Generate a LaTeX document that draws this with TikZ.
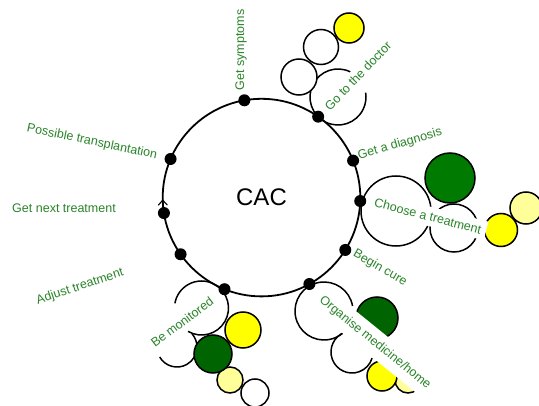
\documentclass[tikz,border=0pt]{standalone}
\usepackage{fontspec}
\setmainfont{Liberation Sans}
\usetikzlibrary{arrows.meta}
\definecolor{cycText}{HTML}{2A842A}
\definecolor{cycGreen}{HTML}{007A00}
\definecolor{cycDark}{HTML}{006400}
\definecolor{cycYellow}{HTML}{FFFF00}
\definecolor{cycPale}{HTML}{FFFF99}

\begin{document}
\begin{tikzpicture}[
  x=1pt, y=1pt,
  font=\fontsize{12.5}{14}\selectfont,
  ring/.style={circle, draw, line width=1.8pt, minimum size=197.6pt,
               inner sep=0pt, outer sep=0pt, font=\fontsize{24}{28}\selectfont},
  stopdot/.style={circle, fill=black, minimum size=12pt, inner sep=0pt},
  lobe/.style={line width=1.5pt},
  ball/.style={draw, line width=1.5pt},
  steplabel/.style={text=cycText, fill=white, inner sep=1.5pt},
  flowarr/.style={-{Straight Barb[length=5pt,width=9pt,line width=1.1pt]}, line width=1.2pt}
]
\useasboundingbox (0,0) rectangle (539,405);

\node[ring] (cac) at (261.5,207.4) {CAC};

% go to the doctor
\draw[lobe] (338,308) ++(64:28) arc[start angle=64, end angle=369, radius=28];
\draw[ball, fill=white] (299,328) circle[radius=18];
\draw[ball, fill=white] (321,358) circle[radius=17.5];
\draw[ball, fill=cycYellow] (349,377) circle[radius=15];

% choose a treatment
\draw[lobe] (396,194) circle[radius=35];
\draw[lobe] (454,177) circle[radius=24];
\draw[ball, fill=cycGreen] (450,227) circle[radius=25];
\draw[ball, fill=cycPale] (526,197) circle[radius=16];
\draw[ball, fill=cycYellow] (501,175) circle[radius=16.5];

% be monitored
\draw[lobe] (201.5,97) ++(-120:27) arc[start angle=-120, end angle=170, radius=27];
\draw[lobe] (177,58) ++(210:20) arc[start angle=210, end angle=401, radius=20];
\draw[ball, fill=white] (255,12) circle[radius=14];
\draw[ball, fill=cycPale] (230,25) circle[radius=13];
\draw[ball, fill=cycDark] (213,51) circle[radius=19];
\draw[ball, fill=cycYellow] (243,75) circle[radius=18];

% organise medicine/home
\draw[lobe] (324,94) ++(10:29) arc[start angle=10, end angle=312, radius=29];
\draw[lobe] (352,53) ++(110:21) arc[start angle=110, end angle=343, radius=21];
\draw[ball, fill=cycDark] (377,87) circle[radius=21];
\draw[ball, fill=cycPale] (408,25) circle[radius=13];
\draw[ball, fill=cycYellow] (382,29) circle[radius=15];

\node[steplabel, rotate=90] (l-symp) at (241,355) {Get symptoms};
\node[steplabel, rotate=46] (l-doc) at (358,329) {Go to the doctor};
\node[steplabel, rotate=16] (l-diag) at (400,261) {Get a diagnosis};
\node[steplabel, rotate=-14.5, inner sep=5pt] (l-choose) at (428,189) {Choose a treatment};
\node[steplabel, rotate=-30] (l-cure) at (380,137) {Begin cure};
\node[steplabel, rotate=-39, inner sep=7pt] (l-org) at (375,62) {Organise medicine/home};
\node[steplabel, rotate=37] (l-mon) at (182,83) {Be monitored};
\node[steplabel, rotate=18.5] (l-adj) at (80,118) {Adjust treatment};
\node[steplabel] (l-next) at (64,197) {Get next treatment};
\node[steplabel, rotate=-11.7] (l-trans) at (92,263) {Possible transplantation};

\foreach \a/\n in {100.6/symp, 55.7/doc, 22.9/diag, -2.4/choose, -32.1/cure,
                   -61.3/org, -112.8/mon, -145.6/adj, -171.1/next, 157.4/trans}
  \node[stopdot] (s-\n) at (cac.\a) {};

\draw[flowarr] (cac.-173) arc[start angle=-173, end angle=-179, radius=98.8];
\end{tikzpicture}
\end{document}
